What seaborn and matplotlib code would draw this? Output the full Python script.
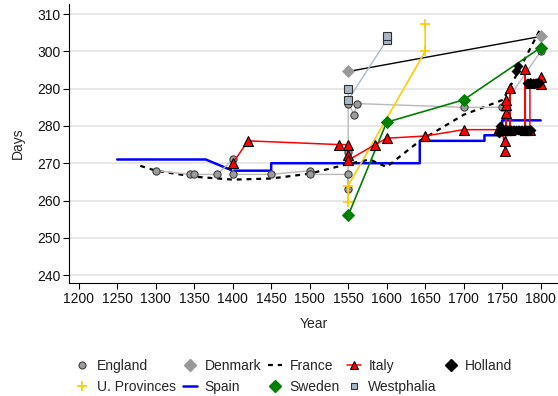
import matplotlib
matplotlib.use("Agg")
import matplotlib.pyplot as plt
from matplotlib.lines import Line2D
import seaborn as sns
import pandas as pd

# ---------------- data ----------------
england_year = [1300, 1345, 1350, 1380, 1400, 1400, 1450, 1500, 1500, 1550, 1550, 1550, 1550, 1558, 1561, 1700, 1750, 1800]
england_days = [268, 267, 267, 267, 271, 267, 267, 268, 267, 267, 263, 273, 286, 283, 286, 285, 285, 300]

denmark_year = [1550, 1800]
denmark_days = [294.6, 304]

france_year = [1280, 1300, 1350, 1400, 1450, 1500, 1550, 1578, 1600, 1643, 1700, 1751, 1772, 1800]
france_days = [269.3, 268.0, 266.4, 265.6, 265.9, 267.2, 269.8, 271.0, 269.0, 276.0, 283.0, 287.0, 295.0, 306.2]

italy_year = [1400, 1420, 1538, 1550, 1550, 1550, 1585, 1600, 1650, 1700, 1745, 1750, 1754, 1754, 1755,
              1755, 1755, 1755, 1755, 1760, 1760, 1760, 1780, 1780, 1780, 1786, 1786, 1800, 1800]
italy_days = [270, 276, 275, 275, 272.3, 270.8, 275, 276.7, 277.3, 279, 279, 279, 273.2, 276, 279,
              283.6, 285.5, 287, 279, 279, 290.3, 279, 279, 295.3, 279, 279, 291.4, 293, 291.3]

holland_year = [1746, 1747, 1748, 1750, 1752, 1754, 1756, 1758, 1760, 1762, 1764, 1766, 1768, 1770,
                1772, 1774, 1776, 1778, 1780, 1782, 1784, 1786, 1788,
                1768, 1771, 1782, 1784, 1786, 1788, 1790, 1792, 1794, 1796, 1798]
holland_days = [278, 280, 279, 279, 279, 279, 279, 279, 279, 279, 279, 279, 279, 279,
                279, 279, 279, 279, 279, 279, 279, 279, 279,
                294.8, 296, 291.5, 291.5, 291.5, 291.5, 291.5, 291.5, 291.5, 291.5, 291.5]

uprov_year = [1550, 1550, 1650, 1650]
uprov_days = [259.7, 264, 300, 307.3]

spain_year = [1250, 1365, 1400, 1450, 1450, 1643, 1643, 1727, 1727, 1750, 1750, 1800]
spain_days = [271, 271, 268, 268, 270, 270, 276, 276, 277.5, 277.5, 281.5, 281.5]

sweden_year = [1550, 1600, 1700, 1800]
sweden_days = [256, 281, 287, 301]

westph_year = [1550, 1550, 1600, 1600]
westph_days = [290, 287, 303, 304]

x_ticks = [1200, 1250, 1300, 1350, 1400, 1450, 1500, 1550, 1600, 1650, 1700, 1750, 1800]
y_ticks = [240, 250, 260, 270, 280, 290, 300, 310]

# ---------------- style ----------------
sns.set_theme(style="white")
plt.rcParams["font.family"] = ["Liberation Sans", "DejaVu Sans"]
plt.rcParams["font.size"] = 10

fig = plt.figure(figsize=(5.58, 3.96), dpi=100)
ax = fig.add_axes([69.3 / 558, 1 - 283.3 / 396, (558 - 69.3) / 558, (283.3 - 4) / 396])

def df(x, y):
    return pd.DataFrame({"Year": x, "Days": y})

grey_fill = "#9c9c9c"

# Spain (step line)
sns.lineplot(data=df(spain_year, spain_days), x="Year", y="Days", sort=False, estimator=None,
             color="#0000ff", lw=1.8, ax=ax, zorder=2)
# France dashed
sns.lineplot(data=df(france_year, france_days), x="Year", y="Days", sort=False, estimator=None,
             color="black", lw=1.6, ls=(0, (2.2, 2.2)), ax=ax, zorder=3)
# England
sns.lineplot(data=df(england_year, england_days), x="Year", y="Days", sort=False, estimator=None,
             color="#b8b8b8", lw=1.0, marker="o", ms=5.2, mfc=grey_fill, mec="#404040", mew=0.8,
             ax=ax, zorder=4)
# Denmark
sns.lineplot(data=df(denmark_year, denmark_days), x="Year", y="Days", sort=False, estimator=None,
             color="black", lw=1.0, marker="D", ms=6.5, mfc="#999999", mec="#999999", mew=0.5,
             ax=ax, zorder=4)
# Westphalia
sns.lineplot(data=df(westph_year, westph_days), x="Year", y="Days", sort=False, estimator=None,
             color="#a9bccf", lw=1.0, marker="s", ms=5.2, mfc="#a7b7c8", mec="#303030", mew=0.8,
             ax=ax, zorder=4)
# U. Provinces
sns.lineplot(data=df(uprov_year, uprov_days), x="Year", y="Days", sort=False, estimator=None,
             color="#ffcc00", lw=1.2, marker="+", ms=7, mew=1.2, mec="#ffcc00",
             ax=ax, zorder=4)
# Sweden
sns.lineplot(data=df(sweden_year, sweden_days), x="Year", y="Days", sort=False, estimator=None,
             color="#008000", lw=1.2, marker="D", ms=6.5, mfc="#008000", mec="#008000",
             ax=ax, zorder=5)
# Italy
sns.lineplot(data=df(italy_year, italy_days), x="Year", y="Days", sort=False, estimator=None,
             color="#ff0000", lw=1.1, marker="^", ms=6.5, mfc="#ff0000", mec="black", mew=0.8,
             ax=ax, zorder=6)
# Holland (markers only)
sns.scatterplot(data=df(holland_year, holland_days), x="Year", y="Days", marker="D", s=26,
                color="black", edgecolor="black", linewidth=0, ax=ax, zorder=7)

# ---------------- axes ----------------
ax.set_xlim(1187.8, 1822.5)
ax.set_ylim(237.8, 312.7)
ax.set_xticks(x_ticks)
ax.set_yticks(y_ticks)
ax.tick_params(axis="both", which="both", direction="out", length=4, width=0.8,
               color="black", labelsize=10, labelcolor="#111111", pad=2, left=True, bottom=True)
ax.grid(axis="y", color="#e6e6e6", lw=1.3)
ax.grid(axis="x", visible=False)
for s in ["top", "right"]:
    ax.spines[s].set_visible(False)
for s in ["left", "bottom"]:
    ax.spines[s].set_color("black")
    ax.spines[s].set_linewidth(0.8)
ax.set_xlabel("Year", fontsize=10, labelpad=8)
ax.set_ylabel("Days", fontsize=10, labelpad=9)

# ---------------- legend ----------------
h_eng = Line2D([], [], ls="none", marker="o", ms=5, mfc=grey_fill, mec="#404040", mew=0.8)
h_upr = Line2D([], [], ls="none", marker="+", ms=7, mew=1.2, mec="#ffcc00")
h_den = Line2D([], [], ls="none", marker="D", ms=6.5, mfc="#999999", mec="#999999")
h_spa = Line2D([], [], color="#0000ff", lw=1.8)
h_fra = Line2D([], [], color="black", lw=1.6, ls=(0, (2.2, 2.2)))
h_swe = Line2D([], [], ls="none", marker="D", ms=6.5, mfc="#008000", mec="#008000")
h_ita = Line2D([], [], color="#ff0000", lw=1.1, marker="^", ms=6, mfc="#ff0000", mec="black", mew=0.8)
h_wes = Line2D([], [], ls="none", marker="s", ms=5, mfc="#a7b7c8", mec="#303030", mew=0.8)
h_hol = Line2D([], [], ls="none", marker="D", ms=6.5, mfc="black", mec="black")

handles = [h_eng, h_upr, h_den, h_spa, h_fra, h_swe, h_ita, h_wes, h_hol]
labels = ["England", "U. Provinces", "Denmark", "Spain", "France", "Sweden", "Italy", "Westphalia", "Holland"]
fig.legend(handles, labels, ncol=5, loc="center", bbox_to_anchor=(294 / 558, 1 - 376.5 / 396),
           frameon=False, fontsize=10, handlelength=1.0, handletextpad=0.55,
           columnspacing=0.5, labelspacing=0.5, borderpad=0.2)

fig.savefig("out.png", dpi=100)
